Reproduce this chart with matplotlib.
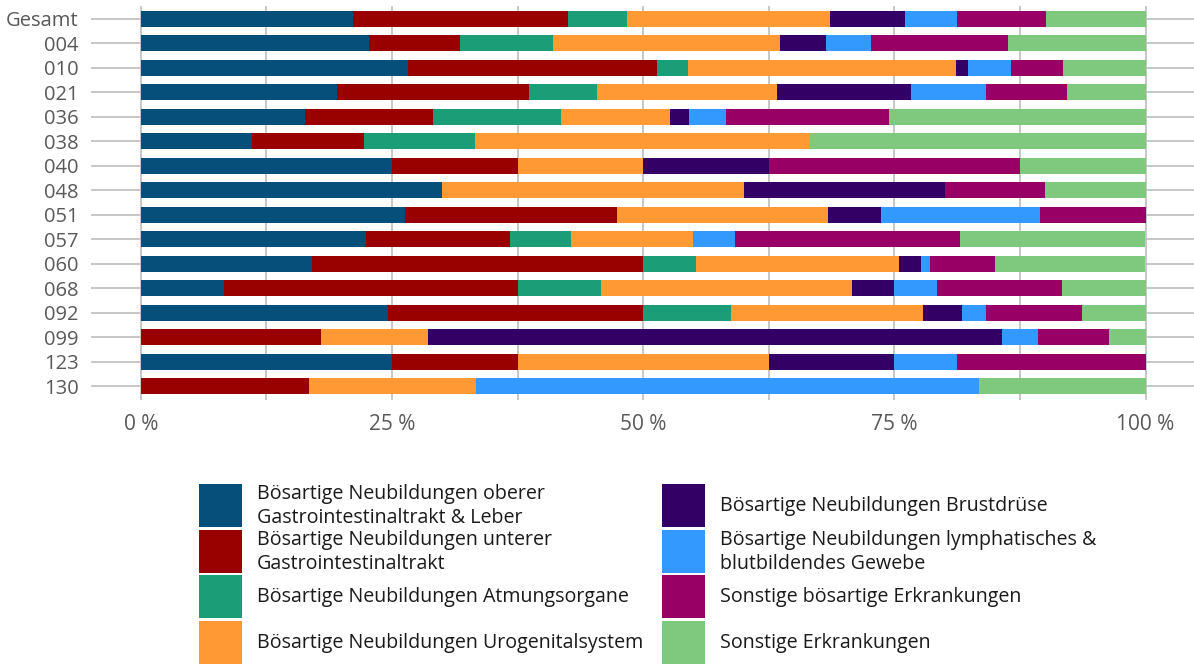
import matplotlib
matplotlib.use("Agg")
import matplotlib.pyplot as plt
from matplotlib.patches import Rectangle
from matplotlib.ticker import MultipleLocator, FuncFormatter
import numpy as np

plt.rcParams['font.family'] = ['Open Sans', 'DejaVu Sans']

# Regionen (oben -> unten)
regions = ["Gesamt", "004", "010", "021", "036", "038", "040", "048",
           "051", "057", "060", "068", "092", "099", "123", "130"]

# Anteile in % je Diagnosegruppe
obere_gi = [21.1, 22.7, 26.6, 19.55, 16.35, 11.1, 25.0, 30.0, 26.3, 22.4, 17.0, 8.3, 24.6, 0, 25.0, 0]
untere_gi = [21.4, 9.1, 24.8, 19.05, 12.75, 11.1, 12.5, 0, 21.05, 14.3, 33.0, 29.2, 25.4, 17.9, 12.5, 16.7]
atmung = [5.9, 9.2, 3.1, 6.8, 12.7, 11.1, 0, 0, 0, 6.1, 5.25, 8.3, 8.7, 0, 0, 0]
urogenital = [20.2, 22.6, 26.6, 17.9, 10.9, 33.3, 12.5, 30.0, 21.05, 12.2, 20.2, 25.0, 19.1, 10.7, 25.0, 16.7]
brust = [7.5, 4.6, 1.2, 13.35, 1.9, 0, 12.5, 20.0, 5.3, 0, 2.2, 4.2, 3.9, 57.1, 12.5, 0]
lymph = [5.15, 4.5, 4.3, 7.45, 3.6, 0, 0, 0, 15.8, 4.1, 0.9, 4.2, 2.4, 3.6, 6.25, 50.0]
sonst_boes = [8.85, 13.6, 5.2, 8.1, 16.3, 0, 25.0, 10.0, 10.5, 22.4, 6.5, 12.5, 9.6, 7.1, 18.75, 0]
sonstige = [9.9, 13.7, 8.2, 7.8, 25.5, 33.4, 12.5, 10.0, 0, 18.4, 14.9, 8.3, 6.3, 3.6, 0, 16.6]

series = [obere_gi, untere_gi, atmung, urogenital, brust, lymph, sonst_boes, sonstige]

labels = [
    "Bösartige Neubildungen oberer\nGastrointestinaltrakt & Leber",
    "Bösartige Neubildungen unterer\nGastrointestinaltrakt",
    "Bösartige Neubildungen Atmungsorgane",
    "Bösartige Neubildungen Urogenitalsystem",
    "Bösartige Neubildungen Brustdrüse",
    "Bösartige Neubildungen lymphatisches &\nblutbildendes Gewebe",
    "Sonstige bösartige Erkrankungen",
    "Sonstige Erkrankungen",
]

colors = ["#064F7B", "#990000", "#1B9E77", "#FF9933",
          "#330066", "#3399FF", "#990066", "#7FC97F"]

W, H = 1194, 664
fig = plt.figure(figsize=(W / 100, H / 100), dpi=100)

# Hauptdiagramm
ax = fig.add_axes([91 / W, 1 - 400 / H, (W - 91) / W, 394 / H])
y = np.arange(len(regions))
left = np.zeros(len(regions))
for vals, col in zip(series, colors):
    ax.barh(y, vals, left=left, height=0.65, color=col, linewidth=0, zorder=3)
    left += np.array(vals)

ax.set_xlim(-4.956, 104.82)
ax.set_ylim(15.57, -0.53)
ax.set_yticks(y)
ax.set_yticklabels(regions)
ax.xaxis.set_major_locator(MultipleLocator(25))
ax.xaxis.set_minor_locator(MultipleLocator(12.5))
ax.xaxis.set_major_formatter(FuncFormatter(lambda v, p: f"{v:.0f} %" if 0 <= v <= 100 else ""))

grid_col = "#BEBEBE"
ax.grid(axis='y', color=grid_col, linewidth=1.2, zorder=0)
for xv in np.arange(0, 100.1, 12.5):
    ax.axvline(xv, color=grid_col, linewidth=1.2, zorder=1)

ax.tick_params(axis='both', which='both', length=0, labelcolor="#595959")
ax.tick_params(axis='x', pad=10, labelsize=15)
ax.tick_params(axis='y', pad=9, labelsize=14.5)
for s in ax.spines.values():
    s.set_visible(False)

# Legende (zwei Spalten, vier Zeilen)
lax = fig.add_axes([0, 0, 1, 1], zorder=-1)
lax.set_xlim(0, W)
lax.set_ylim(H, 0)
lax.axis('off')
for i, (lab, col) in enumerate(zip(labels, colors)):
    colidx, row = divmod(i, 4)
    x0 = 199 + colidx * 463
    top = 484 + row * 45.7
    lax.add_patch(Rectangle((x0, top), 43, 43, facecolor=col, edgecolor='none'))
    lax.text(x0 + 58, top + 22, lab, fontsize=14.1, color="#1A1A1A",
             va='center', ha='left', linespacing=1.28)

fig.savefig("out.png", dpi=100, facecolor="white")
